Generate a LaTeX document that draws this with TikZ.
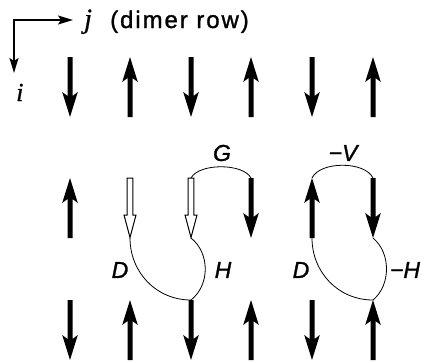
\documentclass[tikz,border=0pt]{standalone}
\usepackage{fontspec}
\setmainfont{Liberation Sans}[FakeBold=1.2, ItalicFeatures={FakeBold=1.2}]
\newfontfamily\serifit{Liberation Serif}[ItalicFeatures={FakeBold=0.8}]
\newfontfamily\dimerfont{Liberation Sans}[LetterSpace=8, FakeBold=1.2]
\usetikzlibrary{arrows.meta}
\begin{document}
\begin{tikzpicture}[x=1pt,y=-1pt,
  lab/.style={font=\fontsize{23}{23}\selectfont\itshape, inner sep=0pt},
  link/.style={line width=0.8pt},
  axisline/.style={line width=1.6pt,
    {Stealth[length=15pt,width=9pt,inset=3pt]}-{Stealth[length=15pt,width=9pt,inset=3pt]}},
  pics/spindown/.style={code={\fill (-2.5,0) -- (2.5,0) -- (2.5,39) -- (7.8,35) -- (0,60) -- (-7.8,35) -- (-2.5,39) -- cycle;}},
  pics/spinup/.style={code={\fill (-2.5,60) -- (2.5,60) -- (2.5,21) -- (7.8,25) -- (0,0) -- (-7.8,25) -- (-2.5,21) -- cycle;}},
  pics/spinhollow/.style={code={\filldraw[fill=white, line width=1pt] (-2.8,0) -- (2.8,0) -- (2.8,37) -- (6,37) -- (0,59.5) -- (-6,37) -- (-2.8,37) -- cycle;}},
]
\useasboundingbox (0,0) rectangle (427,362);

% axes
\coordinate (o) at (14,20);
\coordinate (ox) at (73,20);
\coordinate (oy) at (14,73);
\draw[axisline] (ox) -- (o) -- (oy);
\node[anchor=base west, inner sep=0pt, font=\serifit\itshape\fontsize{28}{28}\selectfont] (j) at (84,28) {j};
\node[anchor=base west, inner sep=0pt, font=\dimerfont\fontsize{24}{24}\selectfont] (dimer) at (110,28) {(dimer row)};
\node[anchor=base west, inner sep=0pt, font=\serifit\itshape\fontsize{26}{26}\selectfont] (i) at (16,101) {i};

% lattice coordinates
\foreach \c/\x in {1/70,2/130,3/191,4/251,5/312,6/373}{
  \foreach \r/\y in {1/57,2/178,3/300}{
    \coordinate (t\r\c) at (\x,\y);
    \coordinate (b\r\c) at (\x,\y+60);
  }
}

% links
\draw[link] (t23) .. controls +(8,-15) and +(-8,-15) .. (t24);
\draw[link] (t25) .. controls +(8,-17) and +(-8,-17) .. (t26);
\draw[link] (b22) .. controls +(0,34) and +(-35,0) .. (t33);
\draw[link] (b23) .. controls +(19,15) and +(19,-15) .. (t33);
\draw[link] (b25) .. controls +(0,34) and +(-35,0) .. (t36);
\draw[link] (b26) .. controls +(18,15) and +(18,-15) .. (t36);

% spins
\foreach \rc in {11,13,15,24,26,31,33,35} \pic at (t\rc) {spindown};
\foreach \rc in {12,14,16,21,25,32,34,36} \pic at (t\rc) {spinup};
\foreach \rc in {22,23} \pic at (t\rc) {spinhollow};

% labels
\node[lab] (G) at (222,153) {G};
\node[lab] (V) at (343,153) {−V};
\node[lab] (D1) at (120,270) {D};
\node[lab] (H1) at (223,270) {H};
\node[lab] (D2) at (301,270) {D};
\node[lab] (H2) at (405,270) {−H};
\end{tikzpicture}
\end{document}
